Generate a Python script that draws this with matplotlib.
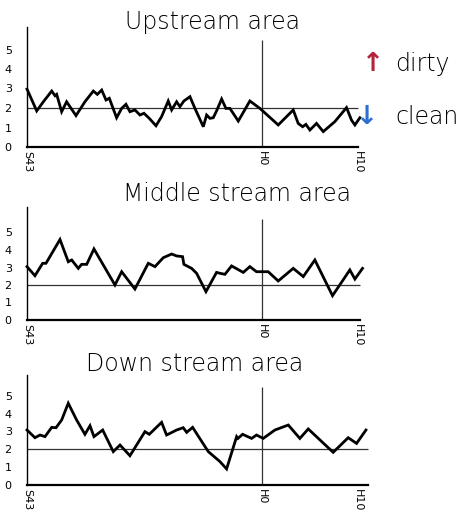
import matplotlib
matplotlib.use("Agg")
import matplotlib.pyplot as plt

# years since S43 (1968) and index values
up_years = [0.0, 0.88, 1.48, 2.24, 2.54, 2.69, 3.14, 3.59, 4.44, 5.25, 6.01, 6.37,
            6.77, 7.16, 7.46, 8.12, 8.58, 8.97, 9.33, 9.78, 10.24, 10.6, 11.08,
            11.69, 12.2, 12.8, 13.11, 13.56, 13.86, 14.22, 14.77, 15.22, 15.98,
            16.28, 16.58, 16.88, 17.18, 17.64, 18.03, 18.39, 19.15, 20.2, 21.11,
            22.77, 24.13, 24.58, 24.98, 25.28, 25.64, 26.24, 26.85, 27.9, 28.96,
            29.41, 29.72, 30.17]
up_vals = [2.97, 1.85, 2.32, 2.87, 2.63, 2.70, 1.81, 2.32, 1.61, 2.32, 2.87, 2.70,
           2.92, 2.41, 2.50, 1.50, 1.98, 2.19, 1.81, 1.90, 1.64, 1.73, 1.47,
           1.09, 1.56, 2.36, 1.90, 2.32, 2.07, 2.36, 2.58, 1.98, 1.04,
           1.64, 1.47, 1.50, 1.85, 2.46, 1.98, 1.98, 1.33, 2.36, 1.98,
           1.13, 1.90, 1.21, 1.04, 1.16, 0.87, 1.21, 0.79, 1.30, 2.02,
           1.38, 1.13, 1.50]

mid_years = [0.0, 0.72, 1.42, 1.72, 2.99, 3.74, 4.05, 4.65, 4.95, 5.41, 6.07, 7.97,
             8.58, 9.78, 10.99, 11.6, 12.35, 13.11, 13.56, 14.1, 14.22, 14.92,
             15.37, 16.22, 17.18, 17.48, 17.94, 18.54, 19.6, 20.2, 20.8, 21.86,
             22.77, 24.13, 25.04, 26.09, 27.69, 29.26, 29.72, 30.41]
mid_vals = [3.05, 2.53, 3.24, 3.24, 4.60, 3.33, 3.43, 2.95, 3.18, 3.18, 4.06, 2.0,
            2.76, 1.77, 3.24, 3.05, 3.56, 3.77, 3.66, 3.62, 3.18, 2.95,
            2.67, 1.62, 2.72, 2.67, 2.61, 3.09, 2.72, 3.05, 2.76, 2.76,
            2.23, 2.95, 2.48, 3.43, 1.39, 2.86, 2.34, 2.95]

down_years = [0.0, 0.72, 1.18, 1.63, 2.24, 2.63, 3.14, 3.74, 4.5, 5.25, 5.71, 6.07,
              6.86, 7.82, 8.43, 9.33, 10.69, 11.08, 12.2, 12.65, 13.56, 14.16,
              14.47, 15.01, 16.43, 17.49, 18.09, 19.0, 19.12, 19.54, 20.36, 20.8,
              21.41, 22.47, 23.68, 24.73, 25.49, 27.75, 29.11, 29.87, 30.72]
down_vals = [3.08, 2.65, 2.80, 2.71, 3.23, 3.21, 3.64, 4.58, 3.64, 2.84, 3.32, 2.71,
             3.08, 1.87, 2.24, 1.64, 2.99, 2.84, 3.51, 2.80, 3.08, 3.21,
             2.95, 3.23, 1.87, 1.31, 0.90, 2.71, 2.61, 2.84, 2.61, 2.80,
             2.61, 3.08, 3.36, 2.61, 3.14, 1.83, 2.65, 2.33, 3.08]

titles = ["Upstream area", "Middle stream area", "Down stream area"]
tick_years = [0, 21.3, 30]
tick_labels = ["S43", "H0", "H10"]
y_ticks = [0, 1, 2, 3, 4, 5]
baseline_value = 2

W, H = 461, 514
fig = plt.figure(figsize=(W / 100, H / 100), dpi=100)
fig.patch.set_facecolor("white")

PX_PER_YR = 331 / 30
X_MAX = 31.6


def px_axes(left, baseline, unit, ytop):
    height = ytop * unit
    width = X_MAX * PX_PER_YR
    return fig.add_axes([left / W, (H - baseline) / H, width / W, height / H])


# (baseline px, px per unit, y-axis top, vline top, x-axis end, title x, title y)
panels = [
    (147, 19.5, 6.15, 5.5, 30.0, 212, 22),
    (320, 17.5, 6.45, 5.8, 30.2, 237, 194),
    (485, 17.85, 6.15, 5.5, 30.9, 195, 364),
]
series = [(up_years, up_vals), (mid_years, mid_vals), (down_years, down_vals)]

for (base, unit, ytop, vtop, xend, tx, ty), (xs, ys), title in zip(panels, series, titles):
    ax = px_axes(27, base, unit, ytop)
    ax.set_xlim(0, X_MAX)
    ax.set_ylim(0, ytop)
    ax.patch.set_alpha(0)
    for s in ["top", "right"]:
        ax.spines[s].set_visible(False)
    ax.spines["left"].set_linewidth(1.0)
    ax.spines["bottom"].set_linewidth(1.6)
    ax.spines["bottom"].set_bounds(0, xend)

    ax.hlines(baseline_value, 0, xend, color="#333333", lw=0.9)
    ax.vlines(tick_years[1], 0, vtop, color="#333333", lw=0.9)
    ax.plot(xs, ys, color="black", lw=2.0, clip_on=False, solid_joinstyle="miter")

    ax.set_yticks(y_ticks)
    ax.set_yticklabels([str(v) for v in y_ticks], fontsize=8)
    ax.tick_params(axis="y", length=0, pad=11)
    ax.set_xticks(tick_years)
    ax.set_xticklabels(tick_labels, rotation=-90, fontsize=8)
    ax.tick_params(axis="x", length=0, pad=3)

    fig.text(tx / W, 1 - ty / H, title, fontsize=17, ha="center", va="center",
             fontweight="light")

fig.text(373 / W, 1 - 64 / H, "↑", color="#b3243c", fontsize=19, ha="center",
         va="center", fontweight="bold")
fig.text(395 / W, 1 - 64 / H, "dirty", fontsize=17, ha="left", va="center",
         fontweight="light")
fig.text(367 / W, 1 - 117 / H, "↓", color="#2b6fd1", fontsize=19, ha="center",
         va="center", fontweight="bold")
fig.text(395 / W, 1 - 117 / H, "clean", fontsize=17, ha="left", va="center",
         fontweight="light")

fig.savefig("out.png", dpi=100)
